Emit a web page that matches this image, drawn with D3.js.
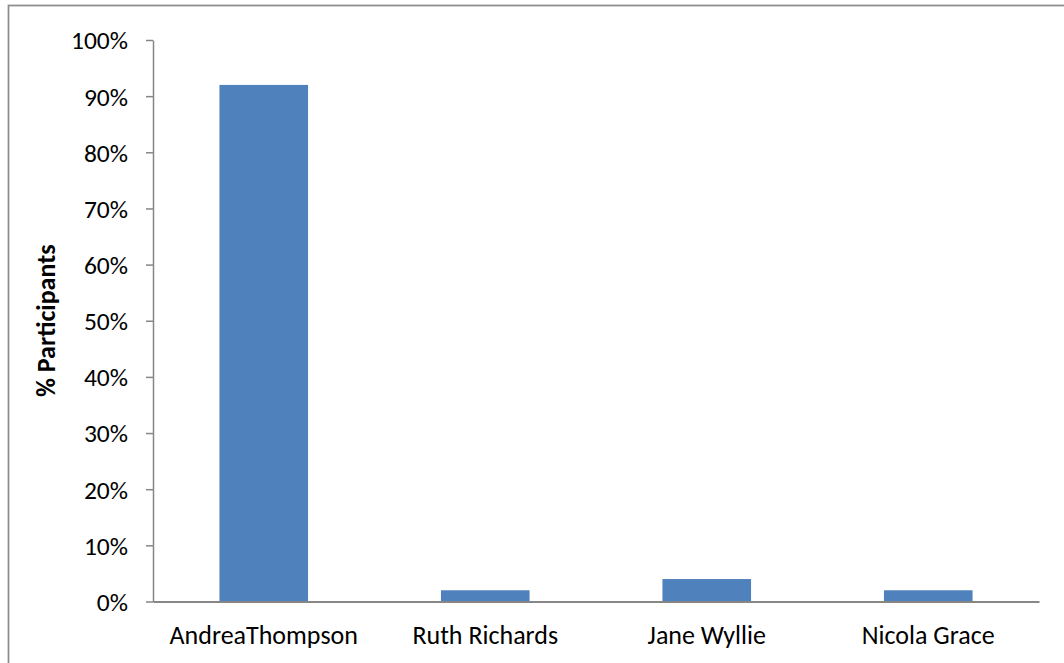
<!DOCTYPE html>
<html>
<head>
<meta charset="utf-8">
<script src="https://cdn.jsdelivr.net/npm/d3@7"></script>
<style>
  html, body { margin: 0; padding: 0; background: #ffffff; }
  svg { display: block; }
  text { font-family: Carlito, Calibri, Lato, "Open Sans", sans-serif; fill: #000; }
</style>
</head>
<body>
<svg id="chart" width="1064" height="663"></svg>
<script>
// Share of participants choosing each person
const categories = ["AndreaThompson", "Ruth Richards", "Jane Wyllie", "Nicola Grace"];
const values = [92, 2, 4, 2];
const tickValues = [0, 10, 20, 30, 40, 50, 60, 70, 80, 90, 100];
const yTitle = "% Participants";

const svg = d3.select("#chart");
const W = 1064, H = 663;
const plot = { left: 153, right: 1039, top: 40, bottom: 601.5 };
const axisColor = "#868686";
const barColor = "#4F81BD";

// Outer chart frame (runs past the right and bottom edges)
svg.append("rect")
  .attr("x", 8.5).attr("y", 5.5)
  .attr("width", W + 20).attr("height", H + 20)
  .attr("fill", "#fff")
  .attr("stroke", "#8c8c8c")
  .attr("stroke-width", 1.75);

const x = d3.scaleBand()
  .domain(categories)
  .range([plot.left, plot.right])
  .paddingInner(0.6)
  .paddingOuter(0.3);

const y = d3.scaleLinear()
  .domain([0, 100])
  .range([plot.bottom, plot.top]);

// Bars
svg.append("g").selectAll("rect")
  .data(categories.map((c, i) => ({ c, v: values[i] })))
  .join("rect")
  .attr("x", d => x(d.c))
  .attr("width", x.bandwidth())
  .attr("y", d => y(d.v))
  .attr("height", d => y(0) - y(d.v))
  .attr("fill", barColor);

// Y axis
const yAxis = svg.append("g")
  .attr("transform", `translate(${plot.left},0)`)
  .call(d3.axisLeft(y)
    .tickValues(tickValues)
    .tickFormat(d => d + "%")
    .tickSize(7)
    .tickSizeOuter(0)
    .tickPadding(18));
yAxis.select(".domain").attr("stroke", axisColor).attr("stroke-width", 1.5);
yAxis.selectAll(".tick line").attr("stroke", axisColor).attr("stroke-width", 1.5);
yAxis.selectAll(".tick text")
  .attr("font-size", 25.5)
  .attr("fill", "#000")
  .attr("dy", "0.35em");

// X axis baseline and category labels
const xAxis = svg.append("g")
  .attr("transform", `translate(0,${plot.bottom})`)
  .call(d3.axisBottom(x).tickSize(0).tickPadding(24));
xAxis.select(".domain").attr("stroke", axisColor).attr("stroke-width", 2);
xAxis.selectAll(".tick text")
  .attr("font-size", 26)
  .attr("fill", "#000");

// Y axis title
svg.append("text")
  .attr("transform", `translate(55,${(plot.top + plot.bottom) / 2}) rotate(-90)`)
  .attr("text-anchor", "middle")
  .attr("font-size", 26)
  .attr("font-weight", "bold")
  .text(yTitle);
</script>
</body>
</html>
